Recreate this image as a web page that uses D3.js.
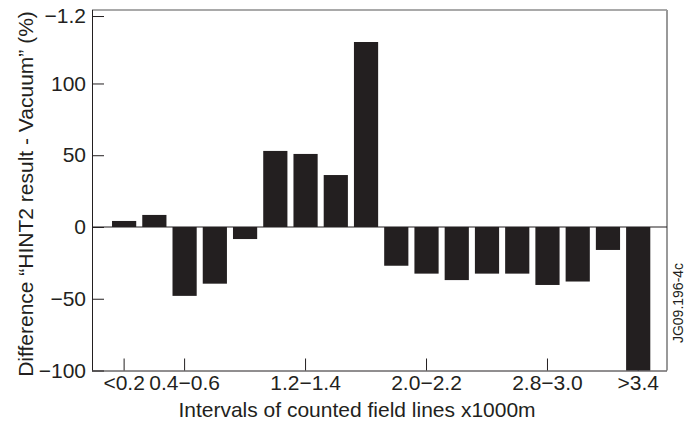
<!DOCTYPE html>
<html><head><meta charset="utf-8">
<script src="https://cdn.jsdelivr.net/npm/d3@7"></script>
<style>
body{margin:0;background:#fff}
text{font-family:"Liberation Sans",Arial,Helvetica,sans-serif;fill:#231f20}
</style>
</head><body><svg id="c" width="687" height="426"></svg>
<script>
const categories = ["<0.2","0.2−0.4","0.4−0.6","0.6−0.8","0.8−1.0","1.0−1.2","1.2−1.4","1.4−1.6","1.6−1.8","1.8−2.0","2.0−2.2","2.2−2.4","2.4−2.6","2.6−2.8","2.8−3.0","3.0−3.2","3.2−3.4",">3.4"];
const values = [4.2,8.4,-48,-39.5,-8.4,53,50.9,36.2,128.9,-27,-32.5,-37,-32.5,-32.5,-40.4,-38,-16,-100];
const xTickLabels = ["<0.2","0.4−0.6","1.2−1.4","2.0−2.2","2.8−3.0",">3.4"];
const yTickValues = [-100,-50,0,50,100,147];
const yTickLabels = ["−100","−50","0","50","100","−1.2"];

const svg = d3.select("#c");
const L = 92, R = 667, T = 10, B = 370.5;
const fs = 21;

const x = d3.scaleBand().domain(categories).range([109, 109 + 18 * 30.24]).paddingInner(0.2).paddingOuter(0.1);
const y = d3.scaleLinear().domain([-100, 151.2]).range([B, T]);

// frame top and right
svg.append("line").attr("x1", L).attr("x2", R).attr("y1", T).attr("y2", T).attr("stroke", "#555").attr("stroke-width", 1.2);
svg.append("line").attr("x1", R).attr("x2", R).attr("y1", T).attr("y2", B).attr("stroke", "#999").attr("stroke-width", 2);

// x axis
const xa = svg.append("g").attr("transform", `translate(0,${B})`)
  .call(d3.axisBottom(x).tickValues(xTickLabels).tickSizeInner(-12).tickSizeOuter(0).tickPadding(5));
xa.select(".domain").attr("d", `M${L},0.5H${R}`).attr("stroke", "#231f20");
xa.selectAll(".tick line").attr("stroke", "#231f20");
xa.selectAll(".tick text").attr("font-size", fs).attr("font-family", null).style("fill", "#231f20");

// y axis
const ya = svg.append("g").attr("transform", `translate(${L},0)`)
  .call(d3.axisLeft(y).tickValues(yTickValues).tickFormat((d, i) => yTickLabels[i]).tickSizeInner(-12).tickSizeOuter(0).tickPadding(6));
ya.select(".domain").attr("d", `M0.5,${T}V${B}`).attr("stroke", "#231f20");
ya.selectAll(".tick line").attr("stroke", "#231f20");
ya.selectAll(".tick text").attr("font-size", fs).attr("font-family", null).style("fill", "#231f20");

// zero line
svg.append("line").attr("x1", L).attr("x2", R).attr("y1", y(0)).attr("y2", y(0)).attr("stroke", "#231f20").attr("stroke-width", 1.2);

// bars
svg.append("g").selectAll("rect").data(values).join("rect")
  .attr("x", (d, i) => x(categories[i]))
  .attr("width", x.bandwidth())
  .attr("y", d => y(Math.max(0, d)))
  .attr("height", d => Math.abs(y(d) - y(0)))
  .attr("fill", "#231f20");

// titles
svg.append("text").attr("x", 357).attr("y", 417).attr("text-anchor", "middle").attr("font-size", fs)
  .text("Intervals of counted field lines x1000m");
svg.append("text").attr("transform", `translate(33,194) rotate(-90)`).attr("text-anchor", "middle").attr("font-size", fs)
  .text("Difference “HINT2 result - Vacuum” (%)");
svg.append("text").attr("transform", `translate(683,303) rotate(-90)`).attr("text-anchor", "middle").attr("font-size", 14)
  .text("JG09.196-4c");
</script></body></html>
